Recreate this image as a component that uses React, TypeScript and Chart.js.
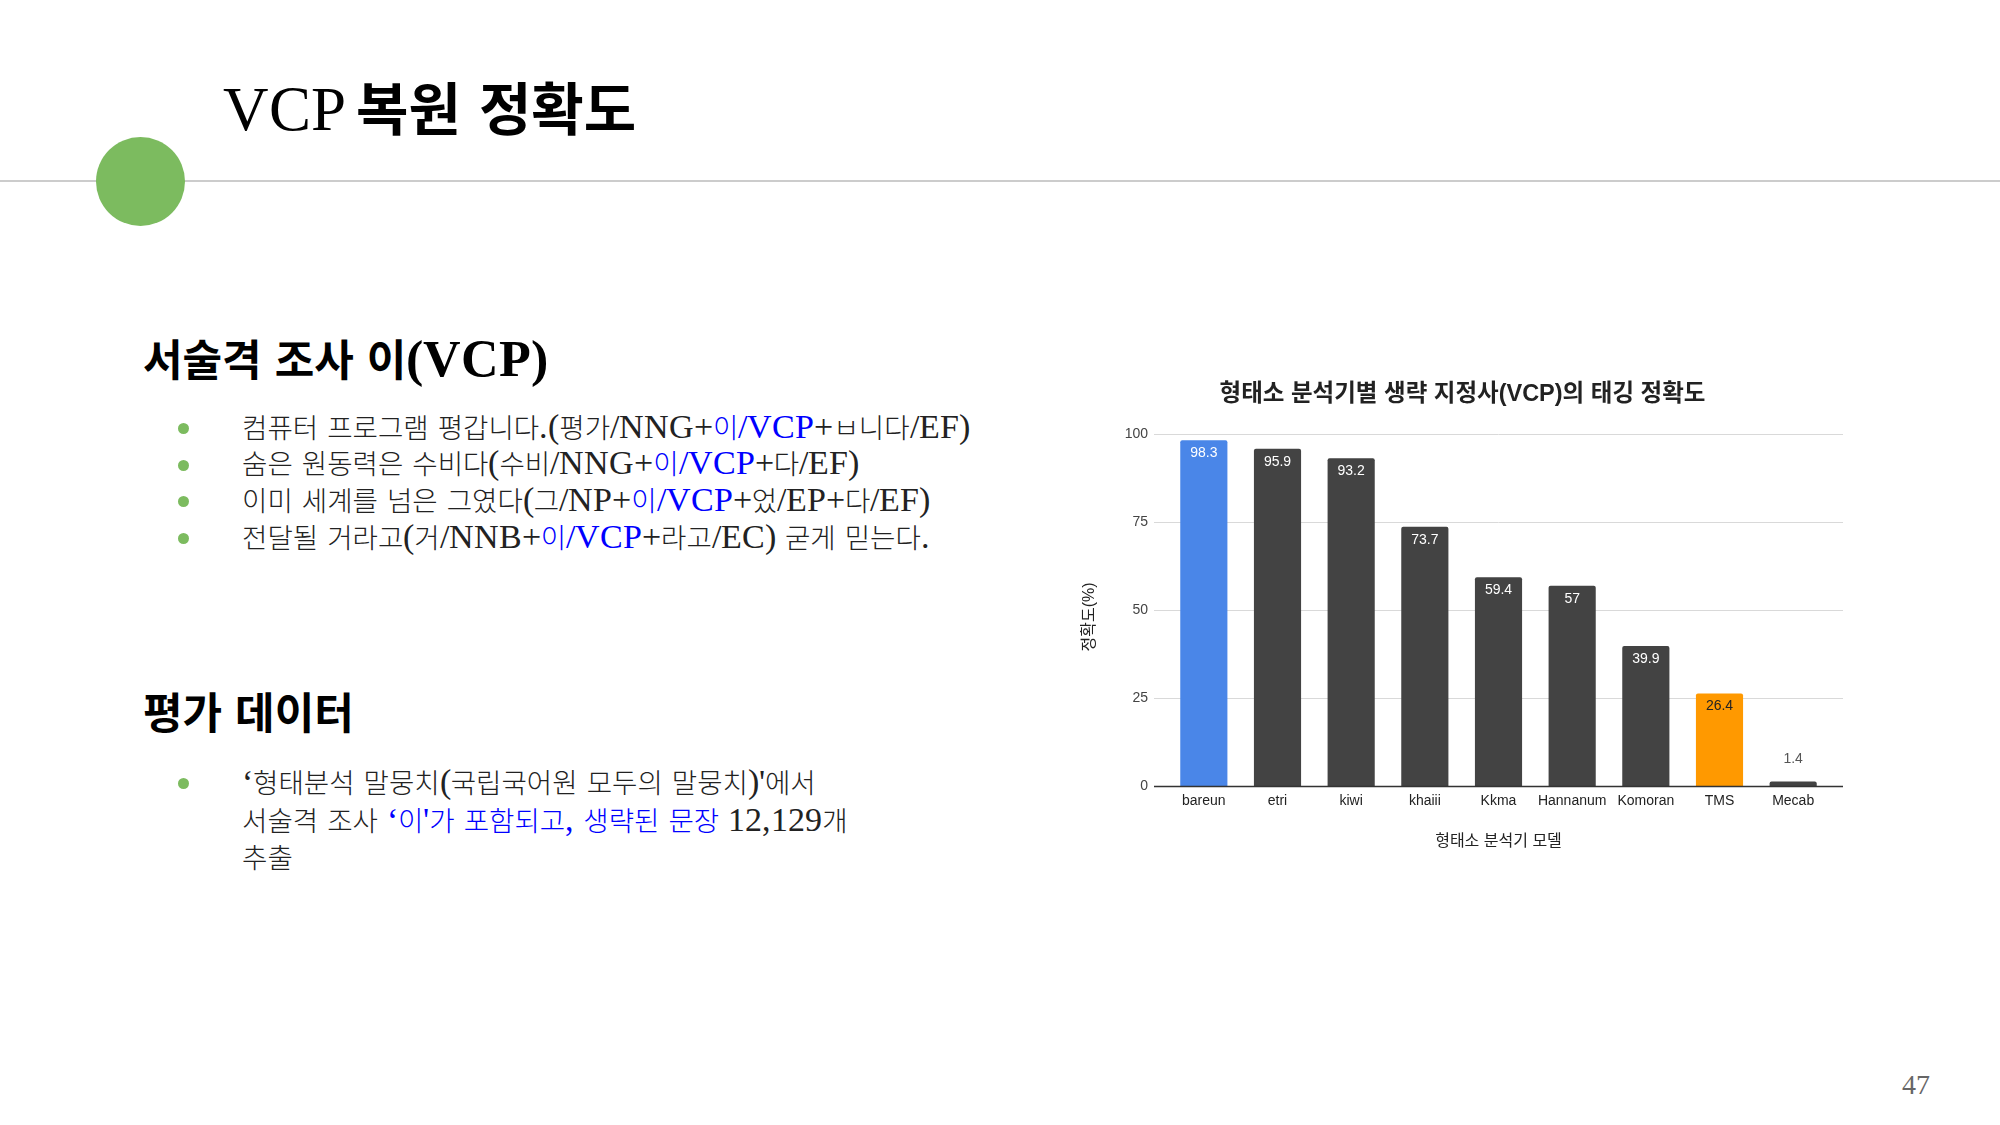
import { useEffect, useRef } from "react"
import { Chart, registerables, type Plugin } from "chart.js"

Chart.register(...registerables)

const models = ["bareun", "etri", "kiwi", "khaiii", "Kkma", "Hannanum", "Komoran", "TMS", "Mecab"]
const accuracy = [98.3, 95.9, 93.2, 73.7, 59.4, 57, 39.9, 26.4, 1.4]
const yTicks = [0, 25, 50, 75, 100]

const chartTitle = "형태소 분석기별 생략 지정사(VCP)의 태깅 정확도"
const xAxisTitle = "형태소 분석기 모델"
const yAxisTitle = "정확도(%)"

const BLUE = "#4a86e8"
const DARK = "#434343"
const ORANGE = "#ff9900"
const GREEN = "#7cbb5f"
const barColors = models.map((m) => (m === "bareun" ? BLUE : m === "TMS" ? ORANGE : DARK))

const SANS = "'Liberation Sans', Arial, 'Noto Sans CJK KR', sans-serif"
const SLIDE_FONT = "SlideSerif, 'Noto Sans CJK KR', serif"

// latin glyphs on the slide are set larger than the hangul ones
const fontFaces = `
@font-face { font-family: "SlideSerif"; src: local("Liberation Serif"), local("LiberationSerif"); font-weight: 400; size-adjust: 122%; }
@font-face { font-family: "SlideSerif"; src: local("Liberation Serif Bold"), local("LiberationSerif-Bold"); font-weight: 700; size-adjust: 122%; }
`

// grid lines run a little past the bars on both sides
const gridPlugin: Plugin<"bar"> = {
  id: "wideGrid",
  beforeDatasetsDraw(chart) {
    const { ctx, chartArea } = chart
    const y = chart.scales.y
    ctx.save()
    y.ticks.forEach((t) => {
      if (t.value === 0) return
      const py = Math.round(y.getPixelForValue(t.value)) + 0.5
      ctx.strokeStyle = "#d9d9d9"
      ctx.lineWidth = 1
      ctx.beginPath()
      ctx.moveTo(chartArea.left - 13, py)
      ctx.lineTo(chartArea.right + 13, py)
      ctx.stroke()
    })
    ctx.restore()
  },
  afterDatasetsDraw(chart) {
    const { ctx, chartArea } = chart
    const y = chart.scales.y
    const py = y.getPixelForValue(0)
    ctx.save()
    ctx.strokeStyle = "#333333"
    ctx.lineWidth = 1.6
    ctx.beginPath()
    ctx.moveTo(chartArea.left - 13, py)
    ctx.lineTo(chartArea.right + 13, py)
    ctx.stroke()

    // value labels
    const meta = chart.getDatasetMeta(0)
    ctx.font = `14px ${SANS}`
    ctx.textAlign = "center"
    ctx.textBaseline = "middle"
    meta.data.forEach((bar: any, i: number) => {
      const v = accuracy[i]
      if (v > 5) {
        ctx.fillStyle = barColors[i] === ORANGE ? "#222222" : "#ffffff"
        ctx.fillText(String(v), bar.x, bar.y + 13)
      } else {
        ctx.fillStyle = "#555555"
        ctx.fillText(String(v), bar.x, bar.y - 22)
      }
    })

    // y axis title, centred a bit below the plot middle like the original
    ctx.translate(20, 257)
    ctx.rotate(-Math.PI / 2)
    ctx.font = `16px ${SANS}`
    ctx.fillStyle = "#222222"
    ctx.fillText(yAxisTitle, 0, 0)
    ctx.restore()
  },
}

function AccuracyChart() {
  const canvasRef = useRef<HTMLCanvasElement>(null)
  const chartRef = useRef<Chart | null>(null)

  useEffect(() => {
    if (!canvasRef.current) return
    if (chartRef.current) chartRef.current.destroy()

    chartRef.current = new Chart(canvasRef.current, {
      type: "bar",
      data: {
        labels: models,
        datasets: [
          {
            data: accuracy,
            backgroundColor: barColors,
            borderRadius: 2,
            borderSkipped: "bottom",
            categoryPercentage: 1,
            barPercentage: 0.64,
          },
        ],
      },
      options: {
        responsive: true,
        maintainAspectRatio: false,
        animation: false,
        layout: { padding: { left: 25, right: 25, top: 0, bottom: 0 } },
        plugins: {
          legend: { display: false },
          tooltip: { enabled: false },
          title: {
            display: true,
            text: chartTitle,
            color: "#222222",
            font: { family: SANS, size: 23.5, weight: "bold" },
            padding: { top: 20, bottom: 26 },
          },
        },
        scales: {
          x: {
            grid: { display: false, drawTicks: false },
            border: { display: false },
            ticks: { color: "#222222", font: { family: SANS, size: 14 }, padding: 6, autoSkip: false, maxRotation: 0 },
            title: {
              display: true,
              text: xAxisTitle,
              color: "#222222",
              font: { family: SANS, size: 16 },
              padding: { top: 17, bottom: 8.5 },
            },
          },
          y: {
            min: 0,
            max: 100,
            afterBuildTicks(scale) {
              scale.ticks = yTicks.map((v) => ({ value: v }))
            },
            afterFit(scale) {
              scale.width = 72
            },
            grid: { display: false, drawTicks: false },
            border: { display: false },
            ticks: { color: "#444444", font: { family: SANS, size: 14 }, padding: 19 },
            title: { display: false },
          },
        },
      },
      plugins: [gridPlugin],
    })

    return () => {
      if (chartRef.current) {
        chartRef.current.destroy()
        chartRef.current = null
      }
    }
  }, [])

  return (
    <div style={{ position: "absolute", left: 1070, top: 360, width: 785, height: 500 }}>
      <canvas ref={canvasRef} />
    </div>
  )
}

const blue = { color: "#0000ff" }

function Dot({ y }: { y: number }) {
  return (
    <div
      style={{
        position: "absolute",
        left: 178,
        top: y - 5.5,
        width: 11,
        height: 11,
        borderRadius: "50%",
        background: GREEN,
      }}
    />
  )
}

export default function App() {
  const bodyText: React.CSSProperties = {
    position: "absolute",
    left: 242,
    fontFamily: SLIDE_FONT,
    fontSize: 27.6,
    fontWeight: 300,
    lineHeight: "36.7px",
    color: "#222222",
    whiteSpace: "nowrap",
  }
  const heading: React.CSSProperties = {
    position: "absolute",
    left: 143,
    fontSize: 43,
    lineHeight: "44px",
    fontWeight: 700,
    color: "#000000",
    whiteSpace: "nowrap",
  }
  return (
    <div
      style={{
        position: "absolute",
        left: 0,
        top: 0,
        width: 2000,
        height: 1125,
        background: "#ffffff",
        overflow: "hidden",
        fontFamily: SLIDE_FONT,
      }}
    >
      <style>{fontFaces}</style>

      {/* header rule + circle */}
      <div style={{ position: "absolute", left: 0, top: 180, width: 2000, height: 2, background: "#cccccc" }} />
      <div
        style={{
          position: "absolute",
          left: 96,
          top: 137,
          width: 89,
          height: 89,
          borderRadius: "50%",
          background: GREEN,
        }}
      />
      <div
        style={{
          position: "absolute",
          left: 223,
          top: 79,
          fontSize: 57,
          lineHeight: "56px",
          color: "#000000",
          whiteSpace: "nowrap",
        }}
      >
        <span style={{ fontSize: 52 }}>VCP</span>
        <span style={{ fontWeight: 700, marginLeft: 10 }}>복원 정확도</span>
      </div>

      {/* section 1 */}
      <div style={{ ...heading, top: 336 }}>서술격 조사 이(VCP)</div>
      {[428, 465, 501, 538].map((y) => (
        <Dot key={y} y={y} />
      ))}
      <div style={{ ...bodyText, top: 408.5 }}>
        <div>
          컴퓨터 프로그램 평갑니다.(평가/NNG+<span style={blue}>이/VCP</span>+ㅂ니다/EF)
        </div>
        <div>
          숨은 원동력은 수비다(수비/NNG+<span style={blue}>이/VCP</span>+다/EF)
        </div>
        <div>
          이미 세계를 넘은 그였다(그/NP+<span style={blue}>이/VCP</span>+었/EP+다/EF)
        </div>
        <div>
          전달될 거라고(거/NNB+<span style={blue}>이/VCP</span>+라고/EC) 굳게 믿는다.
        </div>
      </div>

      {/* section 2 */}
      <div style={{ ...heading, top: 689 }}>평가 데이터</div>
      <Dot y={783} />
      <div style={{ ...bodyText, top: 763, lineHeight: "37.5px" }}>
        <div>‘형태분석 말뭉치(국립국어원 모두의 말뭉치)'에서</div>
        <div>
          서술격 조사 <span style={blue}>‘이'가 포함되고, 생략된 문장</span> 12,129개
        </div>
        <div>추출</div>
      </div>

      <AccuracyChart />

      <div
        style={{
          position: "absolute",
          left: 1902,
          top: 1068,
          fontSize: 28,
          lineHeight: "34px",
          color: "#666666",
          fontFamily: "'Liberation Serif', serif",
        }}
      >
        47
      </div>
    </div>
  )
}
